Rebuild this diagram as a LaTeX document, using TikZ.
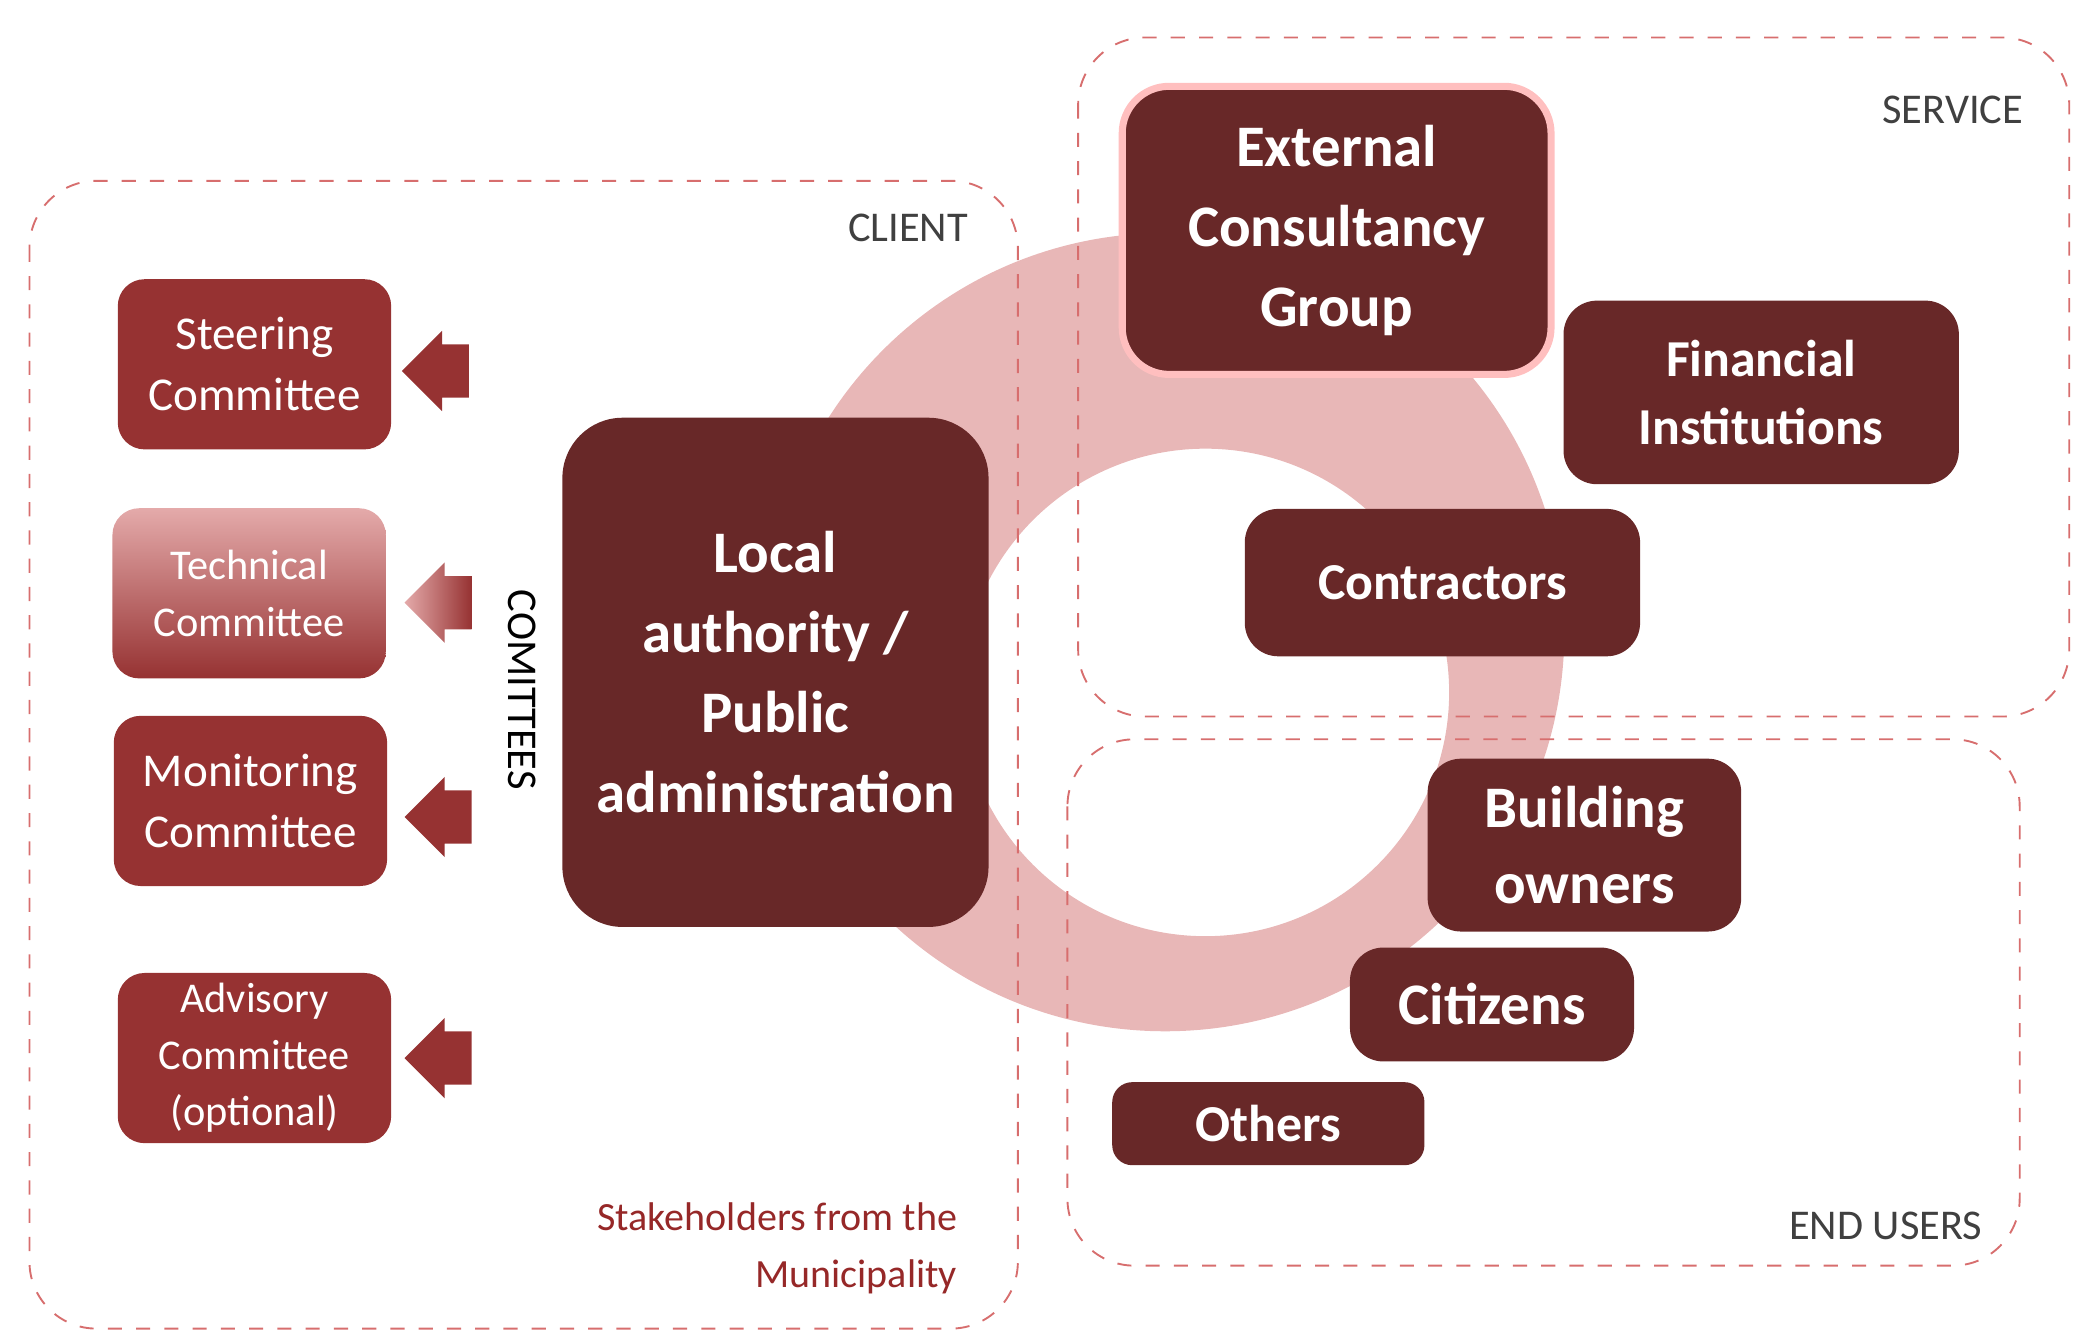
\documentclass[tikz,border=0pt]{standalone}
\usepackage{fontspec}
\setmainfont{Carlito}
\usetikzlibrary{shapes.arrows}
\definecolor{darkred}{RGB}{104,40,40}
\definecolor{midred}{RGB}{150,50,50}
\definecolor{ringred}{RGB}{228,170,170}
\definecolor{dashred}{RGB}{215,110,110}
\definecolor{labelred}{RGB}{150,40,40}
\tikzset{
  zone/.style={draw=dashred, dashed, rounded corners=0.5cm, thin},
  darkbox/.style={rectangle, rounded corners=0.25cm, fill=darkred, text=white, font=\bfseries, align=center, inner sep=0pt},
  combox/.style={rectangle, rounded corners=0.2cm, fill=midred, text=white, align=center, font=\fontsize{10}{13}\selectfont, minimum width=2.04cm, minimum height=1.27cm, inner sep=0pt},
  comarrow/.style={single arrow, fill=midred, shape border rotate=180, minimum height=0.5cm, minimum width=0.6cm, single arrow head extend=0.1cm, inner xsep=0pt, inner ysep=0.19cm},
  zonelabel/.style={font=\fontsize{9}{11}\selectfont, text=black!75}
}
\begin{document}
\begin{tikzpicture}[x=0.01cm, y=-0.01cm]
\useasboundingbox (0,0) rectangle (1559,1000);
% ring
\fill[ringred, opacity=0.85, even odd rule] (870,472) circle (298) (900,517) circle (182);
% zones
\draw[zone] (22,135) rectangle (760,992);
\draw[zone] (805,28) rectangle (1545,535);
\draw[zone] (797,552) rectangle (1508,945);
\node (client) [zonelabel] at (678,170) {CLIENT};
\node (service) [zonelabel] at (1458,82) {SERVICE};
\node (endusers) [zonelabel] at (1408,915) {END USERS};
\node (stake) [anchor=east, align=right, text=labelred, font=\fontsize{8.5}{12}\selectfont] at (727,932) {Stakeholders from the\\Municipality};
% main boxes
\node (local) [darkbox, minimum width=3.18cm, minimum height=3.8cm, rounded corners=0.45cm, font=\bfseries\fontsize{12.5}{17}\selectfont] at (579,502) {Local\\authority /\\Public\\administration};
\node (ecg) [darkbox, minimum width=3.2cm, minimum height=2.15cm, rounded corners=0.35cm, draw=red!25, line width=1.5pt, font=\bfseries\fontsize{12.5}{17}\selectfont] at (998,172) {External\\Consultancy\\Group};
\node (finance) [darkbox, minimum width=2.95cm, minimum height=1.37cm, font=\bfseries\fontsize{11}{14.5}\selectfont] at (1315,293) {Financial\\Institutions};
\node (contract) [darkbox, minimum width=2.95cm, minimum height=1.1cm, font=\bfseries\fontsize{11}{14}\selectfont] at (1077,435) {Contractors};
\node (owners) [darkbox, minimum width=2.34cm, minimum height=1.29cm, font=\bfseries\fontsize{12.5}{16}\selectfont] at (1183,631) {Building\\owners};
\node (citizens) [darkbox, minimum width=2.12cm, minimum height=0.85cm, font=\bfseries\fontsize{12.5}{15}\selectfont] at (1114,750) {Citizens};
\node (others) [darkbox, minimum width=2.33cm, minimum height=0.62cm, rounded corners=0.15cm, font=\bfseries\fontsize{11}{13}\selectfont] at (947,839) {Others};
% committees
\node (steering) [combox] at (190,272) {Steering\\Committee};
\node (technical) [combox, fill=none, top color=ringred, bottom color=midred, font=\fontsize{9}{12}\selectfont] at (186,443) {Technical\\Committee};
\node (monitoring) [combox] at (187,598) {Monitoring\\Committee};
\node (advisory) [combox, font=\fontsize{9}{12}\selectfont] at (190,790) {Advisory\\Committee\\(optional)};
\node (arrsteer) [comarrow] at (335,277) {};
\node (arrtech) [comarrow, fill=none, left color=ringred, right color=midred] at (337,450) {};
\node (arrmon) [comarrow] at (337,610) {};
\node (arradv) [comarrow] at (337,790) {};
\node (comit) [rotate=-90, font=\fontsize{9}{11}\selectfont] at (390,515) {COMITTEES};
\end{tikzpicture}
\end{document}
